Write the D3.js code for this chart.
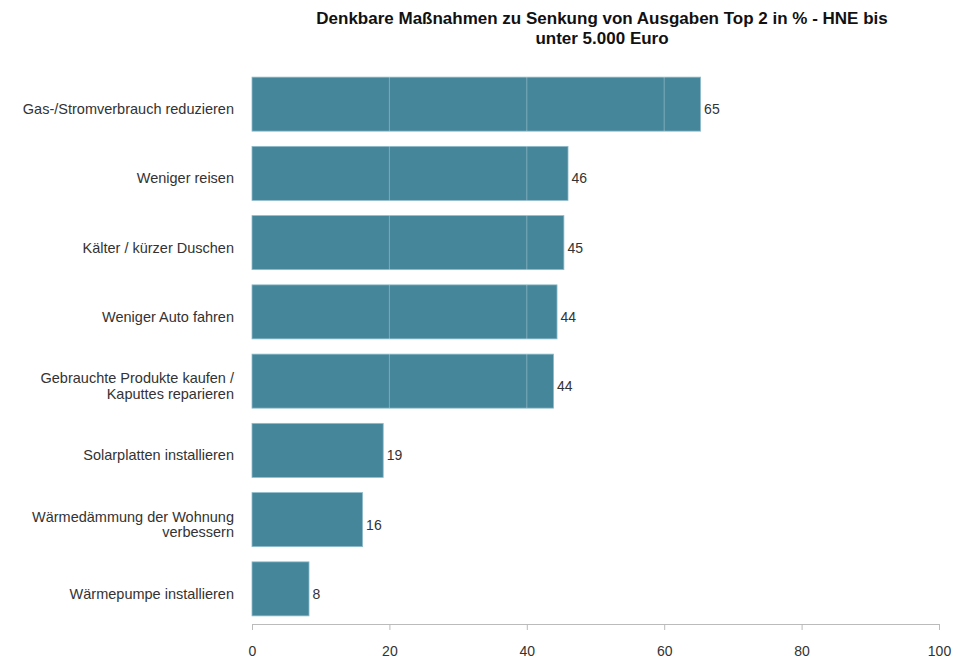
<!DOCTYPE html>
<html><head><meta charset="utf-8">
<script src="https://cdn.jsdelivr.net/npm/d3@7"></script>
<style>body{margin:0;background:#fff;font-family:"Liberation Sans",Arial,sans-serif;}</style>
</head><body><svg id="c" width="954" height="660"></svg>
<script>
const categories = ["Gas-/Stromverbrauch reduzieren","Weniger reisen","Kälter / kürzer Duschen","Weniger Auto fahren","Gebrauchte Produkte kaufen / Kaputtes reparieren","Solarplatten installieren","Wärmedämmung der Wohnung verbessern","Wärmepumpe installieren"];
const labelLines = [["Gas-/Stromverbrauch reduzieren"],["Weniger reisen"],["Kälter / kürzer Duschen"],["Weniger Auto fahren"],["Gebrauchte Produkte kaufen /","Kaputtes reparieren"],["Solarplatten installieren"],["Wärmedämmung der Wohnung","verbessern"],["Wärmepumpe installieren"]];
const values = [65.3, 46.0, 45.4, 44.4, 43.9, 19.1, 16.1, 8.3];
const xTicks = [0,20,40,60,80,100];
const title = ["Denkbare Maßnahmen zu Senkung von Ausgaben Top 2 in % - HNE bis","unter 5.000 Euro"];

const svg = d3.select("#c");
const mLeft = 252, mRight = 939, mTop = 77, mBottom = 616;
const x = d3.scaleLinear().domain([0,100]).range([mLeft,mRight]);
const y = d3.scaleBand().domain(categories).range([mTop - 7.5, mBottom + 7.5]).paddingInner(0.22).paddingOuter(0.11);

svg.append("g").selectAll("text").data(title).join("text")
  .attr("x", 602).attr("y",(d,i)=>24+i*20).attr("text-anchor","middle")
  .attr("font-size",17).attr("font-weight","bold").attr("fill","#111").text(d=>d);

svg.append("g").selectAll("rect").data(values).join("rect")
  .attr("x", x(0)).attr("y",(d,i)=>y(categories[i]))
  .attr("width", d=>x(d)-x(0)).attr("height", y.bandwidth())
  .attr("fill","#45869b").attr("stroke","#8fbccb").attr("stroke-width",0.8);

const grid = svg.append("g");
values.forEach((v,i)=>{
  xTicks.filter(t=>t>0 && t<v).forEach(t=>{
    grid.append("line").attr("x1",x(t)).attr("x2",x(t))
      .attr("y1",y(categories[i])).attr("y2",y(categories[i])+y.bandwidth())
      .attr("stroke","#ffffff").attr("stroke-opacity",0.3).attr("stroke-width",1);
  });
});

svg.append("g").selectAll("text").data(values).join("text")
  .attr("x", d=>x(d)+3.5).attr("y",(d,i)=>y(categories[i])+y.bandwidth()/2+10)
  .attr("font-size",14).attr("fill","#333").text(d=>Math.round(d));

const lab = svg.append("g");
labelLines.forEach((lines,i)=>{
  const cy = y(categories[i])+y.bandwidth()/2;
  lines.forEach((l,j)=>{
    lab.append("text").attr("x",234).attr("y", cy + 10 + (j-(lines.length-1)/2)*15.5)
      .attr("text-anchor","end").attr("font-size",14.5).attr("fill","#333").text(l);
  });
});

const axis = svg.append("g").attr("transform","translate(0,624)")
  .call(d3.axisBottom(x).tickValues(xTicks).tickSize(6).tickSizeOuter(0).tickPadding(16));
axis.selectAll("line,path").attr("stroke","#bbb");
axis.selectAll("text").attr("font-size",14).attr("fill","#333").attr("font-family","Liberation Sans, Arial, sans-serif");
</script></body></html>
